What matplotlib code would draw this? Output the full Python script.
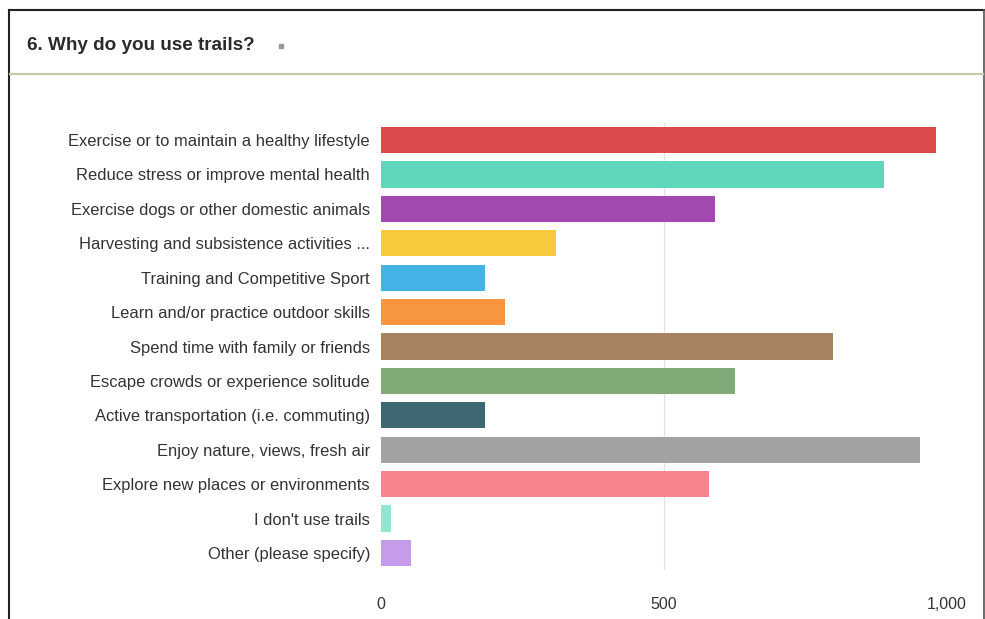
import matplotlib
matplotlib.use("Agg")
import matplotlib.pyplot as plt
from matplotlib.lines import Line2D

plt.rcParams['font.family'] = ['Liberation Sans', 'DejaVu Sans']

categories = [
    "Exercise or to maintain a healthy lifestyle",
    "Reduce stress or improve mental health",
    "Exercise dogs or other domestic animals",
    "Harvesting and subsistence activities ...",
    "Training and Competitive Sport",
    "Learn and/or practice outdoor skills",
    "Spend time with family or friends",
    "Escape crowds or experience solitude",
    "Active transportation (i.e. commuting)",
    "Enjoy nature, views, fresh air",
    "Explore new places or environments",
    "I don't use trails",
    "Other (please specify)",
]
responses = [981, 888, 590, 310, 184, 219, 799, 626, 184, 953, 579, 17, 53]
colors = ["#dc4a4c", "#5fd7bd", "#a349b1", "#f8c93c", "#43b3e6", "#f8953f",
          "#a6825f", "#80ab76", "#3d6771", "#a2a2a2", "#f9838f", "#8ee8cf", "#c69be9"]
ticks = [0, 500, 1000]
tick_labels = ["0", "500", "1,000"]

W, H = 985, 619
fig = plt.figure(figsize=(W / 100, H / 100), dpi=100)
fig.patch.set_facecolor("white")

# frame and header
fig.add_artist(Line2D([9 / W, 984 / W], [1 - 10 / H, 1 - 10 / H], color="#222222", lw=1.5))
fig.add_artist(Line2D([9 / W, 9 / W], [0, 1 - 10 / H], color="#222222", lw=1.5))
fig.add_artist(Line2D([984 / W, 984 / W], [0, 1 - 10 / H], color="#555555", lw=1.2))
fig.add_artist(Line2D([10 / W, 983 / W], [1 - 74 / H, 1 - 74 / H], color="#c3cba6", lw=1.6))
fig.text(27 / W, 1 - 45 / H, "6. Why do you use trails?", fontsize=13.6, fontweight="bold",
         color="#2a2a2a", va="center", ha="left")
fig.add_artist(Line2D([281 / W], [1 - 46 / H], marker="s", markersize=3.2,
                      color="#9a9a9a", lw=0))

ax = fig.add_axes([381 / W, 1 - 570.2 / H, (947 - 381) / W, 447.4 / H])
ypos = list(range(len(categories)))
ax.barh(ypos, responses, height=0.76, color=colors, zorder=2)
ax.set_ylim(len(categories) - 0.5, -0.5)
ax.set_xlim(0, 1000)
ax.set_yticks(ypos)
ax.set_yticklabels(categories, fontsize=11.9, color="#333333")
ax.set_xticks(ticks)
ax.set_xticklabels(tick_labels, fontsize=11.5, color="#333333")
ax.tick_params(axis="y", length=0, pad=8)
ax.tick_params(axis="x", length=0, pad=19)
for s in ax.spines.values():
    s.set_visible(False)
ax.axvline(500, color="#e2e2e2", lw=0.9, zorder=1)

fig.savefig("out.png", dpi=100)
